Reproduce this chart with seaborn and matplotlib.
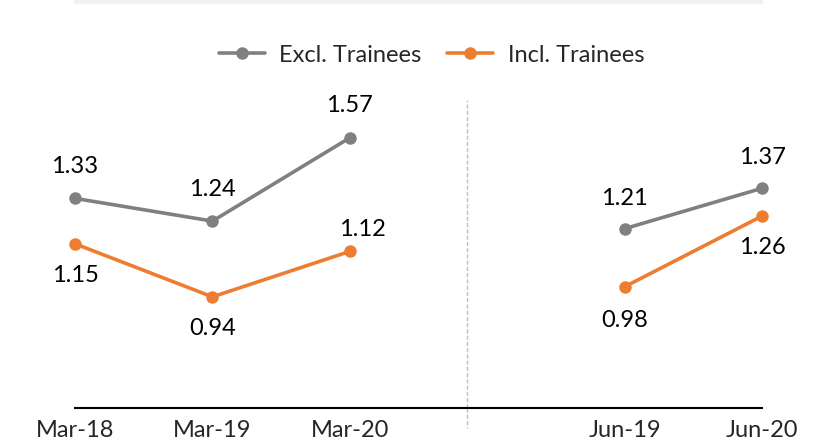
import pandas as pd
import matplotlib.pyplot as plt
import seaborn as sns

# data
periods = ["Mar-18", "Mar-19", "Mar-20", "Jun-19", "Jun-20"]
panels = ["Mar", "Mar", "Mar", "Jun", "Jun"]
excl_trainees = [1.33, 1.24, 1.57, 1.21, 1.37]
incl_trainees = [1.15, 0.94, 1.12, 0.98, 1.26]

sns.set_style("white")
plt.rcParams["font.family"] = ["Lato", "DejaVu Sans"]

# x positions: one empty slot between the March and June groups
pos = [0, 1, 2, 4, 5]

df = pd.concat([
    pd.DataFrame({"pos": pos, "period": periods, "panel": panels,
                  "value": excl_trainees, "series": "Excl. Trainees"}),
    pd.DataFrame({"pos": pos, "period": periods, "panel": panels,
                  "value": incl_trainees, "series": "Incl. Trainees"}),
])

colors = {"Excl. Trainees": "#808080", "Incl. Trainees": "#ED7D31"}

fig = plt.figure(figsize=(8.13, 4.42), dpi=100)
ax = fig.add_axes([0.0923, 0.077, 0.845, 0.697])

sns.lineplot(data=df, x="pos", y="value", hue="series", units="panel",
             estimator=None, palette=colors, marker="o", markersize=9,
             markeredgewidth=0, linewidth=2.6, ax=ax)
for ln in ax.lines:
    ln.set_clip_on(False)

# label offsets (points): grey above, orange mostly below
offsets = {
    "Excl. Trainees": [(0, 23), (0, 23), (0, 23), (0, 22), (0, 22)],
    "Incl. Trainees": [(0, -23), (0, -23), (9, 16), (0, -24), (0, -23)],
}
for name, vals in [("Excl. Trainees", excl_trainees), ("Incl. Trainees", incl_trainees)]:
    for x, v, off in zip(pos, vals, offsets[name]):
        ax.annotate(f"{v:.2f}", (x, v), xytext=off, textcoords="offset points",
                    ha="center", va="center", fontsize=17, color="black")

ax.set_xlim(0, 5)
ax.set_ylim(0.5, 1.72)
ax.set_xticks(pos)
ax.set_xticklabels(periods, fontsize=17)
ax.tick_params(axis="x", length=0, pad=9)
ax.set_yticks([])
ax.set_xlabel("")
ax.set_ylabel("")
for s in ["top", "right", "left"]:
    ax.spines[s].set_visible(False)
ax.spines["bottom"].set_color("black")
ax.spines["bottom"].set_linewidth(1.5)

# dashed separator between the two periods
ax.axvline(2.85, ymin=0, ymax=1, color="#BFBFBF", linestyle=(0, (3, 1.5)),
           linewidth=1.0, clip_on=False)
ax.plot([2.85, 2.85], [0.5, 0.42], color="#BFBFBF", linestyle=(0, (3, 1.5)),
        linewidth=1.0, clip_on=False)

leg = ax.legend(loc="center", bbox_to_anchor=(0.519, 1.145), ncol=2,
                frameon=False, fontsize=17, handlelength=1.95,
                columnspacing=1.1, handletextpad=0.6)

# thin grey strip at the top of the figure
fig.patches.append(plt.Rectangle((0.0905, 0.993), 0.847, 0.007,
                                 transform=fig.transFigure, color="#F2F2F2"))

fig.savefig("out.png", dpi=100)
